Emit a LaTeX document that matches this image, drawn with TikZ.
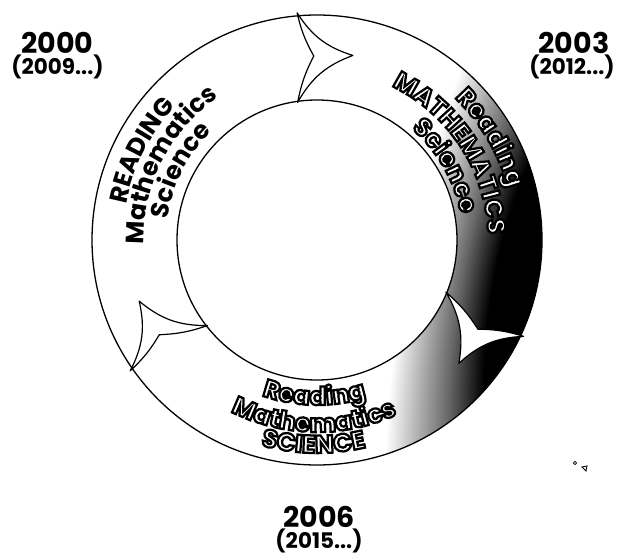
\documentclass[tikz,border=0pt]{standalone}
\usepackage{fontspec}
\newfontfamily\futfont{Poppins}
\newfontfamily\outfont{Poppins}[UprightFont={* Bold}, FakeBold=9]
\usetikzlibrary{decorations.text}
\pgfdeclareradialshading{bandshadow}{\pgfpoint{0bp}{0bp}}{color(0bp)=(black); color(11bp)=(black); color(16bp)=(black!60); color(25bp)=(white); color(50bp)=(white)}
\newcommand\wordfont{\futfont\bfseries\fontsize{25}{25}\selectfont}
\newcommand\outlword{\outfont\fontsize{25}{25}\selectfont\color{white}\special{pdf:literal direct 0 G}}

\begin{document}
\begin{tikzpicture}[x=1pt, y=1pt,
  ringline/.style={line width=1.3pt},
  headshape/.style={draw=black, fill=white, line width=1.2pt, line join=round},
  ringword/.style={decorate, decoration={text along path, text align=center, text={#1}}},
  yearbig/.style={font=\futfont\bfseries\fontsize{28.5}{28.5}\selectfont, inner sep=0pt, anchor=base},
  yearsmall/.style={font=\futfont\bfseries\fontsize{21.5}{21.5}\selectfont, inner sep=0pt, anchor=base}]
\useasboundingbox (0,0) rectangle (619,555);
\begin{scope}
\clip (317,315) circle (225);
\begin{scope}[transform canvas={rotate around={-11:(317,315)}}]
\shade[shading=bandshadow] (567,315) ellipse [x radius=157, y radius=467];
\end{scope}
\end{scope}
\fill[white] (317,315) circle (140);
\draw[ringline] (317,315) circle (225) (317,315) circle (140);
\begin{scope}[shift={(317,315)}]
\filldraw[headshape] (95:228) to[bend right=20] (79:188) to[bend right=20] (98:139) to[bend left=8] (91:184) to[bend left=8] (95:228) -- cycle;
\filldraw[headshape] (335:228) to[bend right=20] (319:188) to[bend right=20] (338:139) to[bend left=8] (331:184) to[bend left=8] (335:228) -- cycle;
\filldraw[headshape] (215:228) to[bend right=20] (199:188) to[bend right=20] (218:139) to[bend left=8] (211:184) to[bend left=8] (215:228) -- cycle;
\path[ringword={|\wordfont|READING}] (213:194) arc[start angle=213, end angle=93, radius=194];
\path[ringword={|\wordfont|Mathematics}] (213:173) arc[start angle=213, end angle=93, radius=173];
\path[ringword={|\wordfont|Science}] (213:151) arc[start angle=213, end angle=93, radius=151];
\path[ringword={|\outlword|Reading}] (90:198) arc[start angle=90, end angle=-29, radius=198];
\path[ringword={|\outlword|MATHEMATICS}] (93:171) arc[start angle=93, end angle=-27, radius=171];
\path[ringword={|\outlword|Science}] (90:146) arc[start angle=90, end angle=-30, radius=146];
\path[ringword={|\outlword|Reading}] (209:165) arc[start angle=209, end angle=329, radius=165];
\path[ringword={|\outlword|Mathematics}] (209:192) arc[start angle=209, end angle=329, radius=192];
\path[ringword={|\outlword|SCIENCE}] (209:213) arc[start angle=209, end angle=329, radius=213];
\end{scope}
\node[yearbig] (y2000) at (57.5,501.5) {2000};
\node[yearsmall] (y2009) at (57.5,480) {(2009...)};
\node[yearbig] (y2003) at (574,501.5) {2003};
\node[yearsmall] (y2012) at (572,480) {(2012...)};
\node[yearbig] (y2006) at (319,27.5) {2006};
\node[yearsmall] (y2015) at (319,6.5) {(2015...)};
\draw[line width=0.8pt] (575,92) circle (1.6) (582,88) -- (587,89) -- (586,84) -- cycle;
\end{tikzpicture}
\end{document}
